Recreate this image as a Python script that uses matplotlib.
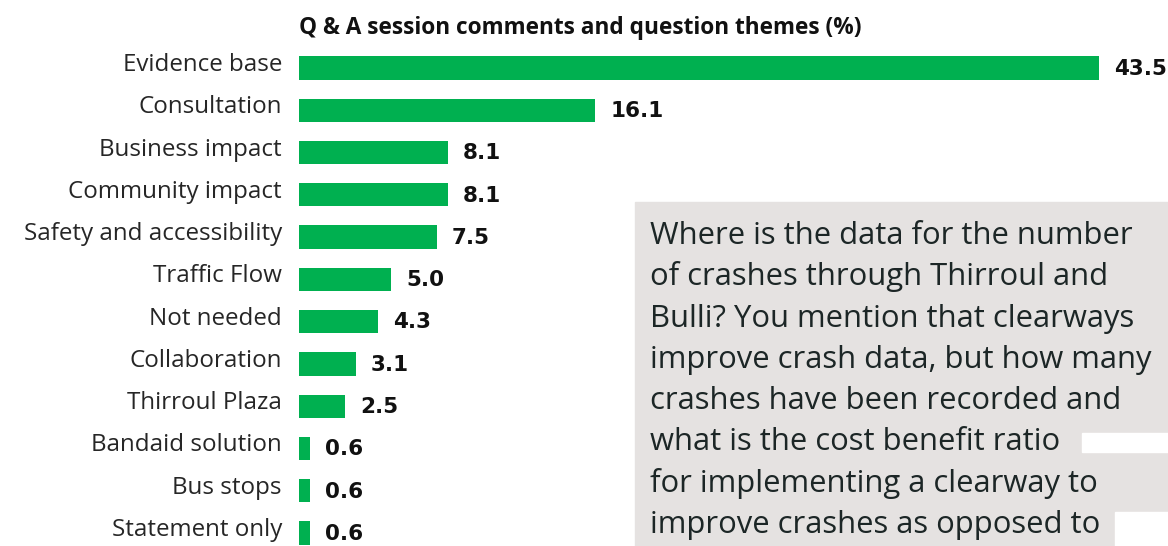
import matplotlib.pyplot as plt
from matplotlib.patches import Rectangle

themes = ['Evidence base', 'Consultation', 'Business impact', 'Community impact',
          'Safety and accessibility', 'Traffic Flow', 'Not needed', 'Collaboration',
          'Thirroul Plaza', 'Bandaid solution', 'Bus stops', 'Statement only']
shares = [43.5, 16.1, 8.1, 8.1, 7.5, 5.0, 4.3, 3.1, 2.5, 0.6, 0.6, 0.6]

title = 'Q & A session comments and question themes (%)'
quote_lines = ['Where is the data for the number',
               'of crashes through Thirroul and',
               'Bulli? You mention that clearways',
               'improve crash data, but how many',
               'crashes have been recorded and',
               'what is the cost benefit ratio',
               'for implementing a clearway to',
               'improve crashes as opposed to']

W, H = 1168, 546
green = '#00b050'

fig = plt.figure(figsize=(W / 100, H / 100), dpi=100)
px = 800 / 43.5  # pixels per percent
left = 299
ax = fig.add_axes([left / W, 0, (W - left) / W, 1])
step = 42.27
ax.set_xlim(0, (W - left) / px)
ax.set_ylim((H - 68) / step, -68 / step)
ypos = list(range(len(themes)))
ax.barh(ypos, shares, height=0.55, color=green)
for y, v, name in zip(ypos, shares, themes):
    ax.text(v + 15 / px, y + 0.02, f'{v:.1f}', va='center', ha='left',
            fontsize=15.5, fontweight='bold', color='#111111', family='DejaVu Sans')
    ax.text(-17 / px, y - 0.07, name, va='center', ha='right', fontsize=17.4,
            color='#262626', family='Open Sans', clip_on=False)
ax.axis('off')

fig.text(left / W, 1 - 28 / H, title, ha='left', va='center', fontsize=16.3,
         fontweight='bold', color='#111111', family='Open Sans')

# grey quote box on the right, text runs off the edge like the source
fig.patches.append(Rectangle((635 / W, 0), (W - 635) / W, (H - 202) / H,
                             transform=fig.transFigure, color='#e5e2e1', zorder=0))
for i, line in enumerate(quote_lines):
    fig.text(650 / W, 1 - (244 + 41.3 * i) / H, line, ha='left', va='baseline',
             fontsize=22.3, color='#1c2626', family='Open Sans')
fig.patches.append(Rectangle((1082 / W, (H - 452) / H), (W - 1082) / W, 19 / H,
                             transform=fig.transFigure, color='white', zorder=5))
fig.patches.append(Rectangle((1115 / W, 0), (W - 1115) / W, 34 / H,
                             transform=fig.transFigure, color='white', zorder=5))

fig.savefig('out.png', dpi=100)
